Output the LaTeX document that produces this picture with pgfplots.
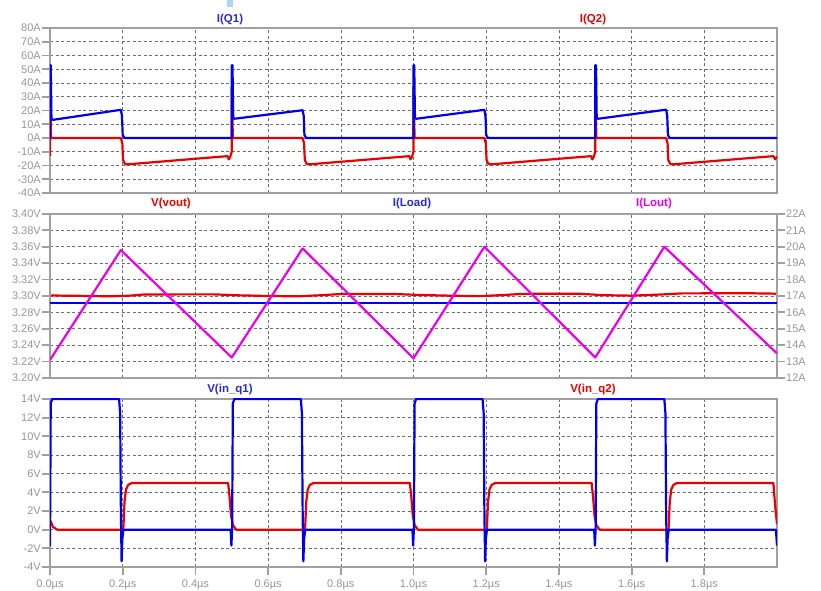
\documentclass[border=0pt]{standalone}
\usepackage{pgfplots}
\pgfplotsset{compat=1.18}
\usepackage{fontspec}
\setmainfont{Liberation Sans}
\definecolor{ltblue}{RGB}{0,0,240}
\definecolor{ltred}{RGB}{235,0,0}
\definecolor{ltmag}{RGB}{235,0,235}
\definecolor{frame}{RGB}{160,160,160}
\definecolor{tickgray}{RGB}{150,150,150}
\definecolor{gridgray}{RGB}{110,110,110}
\definecolor{ttlblue}{RGB}{40,40,220}
\pgfplotsset{
  ltpanel/.style={
    scale only axis, width=727pt, anchor=south west,
    xmin=0, xmax=2,
    xtick={0,0.2,0.4,0.6,0.8,1.0,1.2,1.4,1.6,1.8},
    axis line style={draw=frame, line width=2pt},
    grid=major,
    major grid style={draw=gridgray, line width=0.6pt, dash pattern=on 3pt off 2.5pt},
    tick align=outside, major tick length=8pt,
    every tick/.style={draw=frame, line width=1.8pt},
    ytick pos=left,
    tick label style={font=\fontsize{11}{12}\selectfont, text=tickgray},
    yticklabel style={inner xsep=1pt},
    /pgf/number format/assume math mode=true,
    clip=true,
    every axis plot/.append style={line width=2.2pt, line join=round},
  },
  noxlabels/.style={xticklabels={}, xtick style={draw=none}},
}
\begin{document}
\begin{tikzpicture}
\path[use as bounding box] (0pt,0pt) rectangle (821pt,591pt);
\fill[color={rgb,255:red,170;green,215;blue,250}] (227pt,584pt) rectangle (233pt,591pt);

% ---------------- top panel ----------------
\begin{axis}[ltpanel, noxlabels, at={(50pt,398pt)}, height=165pt,
  ymin=-40, ymax=80, ytick={-40,-30,...,80},
  yticklabel={\pgfmathprintnumber{\tick}A}]
\addplot[ltred] coordinates {
 (0,-13)(0,37)(0.003,0)(0.195,0)(0.199,-4)(0.201,-16)(0.206,-18.8)(0.212,-19.2)
 (0.488,-13.2)(0.492,-15.5)(0.496,-13.5)(0.5,-10)(0.5,37)(0.503,0)
 (0.695,0)(0.699,-4)(0.701,-16)(0.706,-18.8)(0.712,-19.2)
 (0.988,-13.2)(0.992,-15.5)(0.996,-13.5)(1.0,-10)(1.0,37)(1.003,0)
 (1.195,0)(1.199,-4)(1.201,-16)(1.206,-18.8)(1.212,-19.2)
 (1.488,-13.2)(1.492,-15.5)(1.496,-13.5)(1.5,-10)(1.5,37)(1.503,0)
 (1.695,0)(1.699,-4)(1.701,-16)(1.706,-18.8)(1.712,-19.2)
 (1.99,-13.2)(1.995,-15.5)(2.0,-13.5)
};
\addplot[ltblue] coordinates {
 (0,-1)(0,53)(0.002,53)(0.004,14)(0.008,13.2)(0.195,20.5)(0.198,16)(0.2,2)(0.205,0)
 (0.5,0)(0.5,53)(0.502,53)(0.504,14.5)(0.508,14)(0.695,20.2)(0.698,16)(0.7,2)(0.705,0)
 (1.0,0)(1.0,53)(1.002,53)(1.004,14.5)(1.008,14)(1.195,20.5)(1.198,16)(1.2,2)(1.205,0)
 (1.5,0)(1.5,53)(1.502,53)(1.504,14.5)(1.508,14)(1.695,20.6)(1.698,16)(1.7,2)(1.705,0)
 (2.0,0)
};
\end{axis}
\node[font=\bfseries\fontsize{11.5}{12}\selectfont, text=ttlblue] at (230pt,571pt) {I(Q1)};
\node[font=\bfseries\fontsize{11.5}{12}\selectfont, text=ltred] at (593pt,571pt) {I(Q2)};

% ---------------- middle panel ----------------
\begin{axis}[ltpanel, noxlabels, at={(50pt,213pt)}, height=164pt,
  ymin=3.20, ymax=3.40, ytick={3.20,3.22,3.24,3.26,3.28,3.30,3.32,3.34,3.36,3.38,3.40},
  yticklabel={\pgfmathprintnumber[fixed,fixed zerofill,precision=2]{\tick}V}]
\addplot[ltred] coordinates {
 (0,3.3006)(0.08,3.3002)(0.17,3.2996)(0.22,3.3004)(0.26,3.3019)(0.45,3.3020)(0.52,3.3008)
 (0.6,3.3000)(0.68,3.2996)(0.74,3.3008)(0.8,3.3024)(0.95,3.3024)(1.02,3.3012)
 (1.1,3.3004)(1.18,3.2998)(1.24,3.3010)(1.3,3.3026)(1.46,3.3027)(1.52,3.3010)
 (1.6,3.3004)(1.68,3.3018)(1.74,3.3032)(1.93,3.3033)(2.0,3.3028)
};
\end{axis}
\begin{axis}[ltpanel, noxlabels, at={(50pt,213pt)}, height=164pt, grid=none,
  ymin=12, ymax=22, ytick={12,13,...,22}, ytick pos=right,
  yticklabel style={inner xsep=1pt},
  yticklabel={\pgfmathprintnumber{\tick}A}]
\addplot[ltblue] coordinates {(0,16.55)(2.0,16.55)};
\addplot[ltmag] coordinates {
 (0,13.1)(0.195,19.8)(0.5,13.25)(0.695,19.9)(1.0,13.2)(1.195,20.0)(1.5,13.25)(1.69,20.0)(2.0,13.5)
};
\end{axis}
\node[font=\bfseries\fontsize{11.5}{12}\selectfont, text=ltred] at (171pt,387pt) {V(vout)};
\node[font=\bfseries\fontsize{11.5}{12}\selectfont, text=ttlblue] at (412pt,387pt) {I(Load)};
\node[font=\bfseries\fontsize{11.5}{12}\selectfont, text=ltmag] at (654pt,387pt) {I(Lout)};

% ---------------- bottom panel ----------------
\begin{axis}[ltpanel, at={(50pt,24pt)}, height=168pt,
  ymin=-4, ymax=14, ytick={-4,-2,...,14},
  yticklabel={\pgfmathprintnumber{\tick}V},
  xticklabels={0.0µs,0.2µs,0.4µs,0.6µs,0.8µs,1.0µs,1.2µs,1.4µs,1.6µs,1.8µs},
  xtick pos=bottom, xticklabel style={yshift=-1pt}]
\addplot[ltred] coordinates {
 (0,1.0)(0.003,0.8)(0.008,0.3)(0.02,0)(0.195,0)(0.199,-0.6)(0.202,0.3)(0.205,3.0)(0.209,4.3)(0.215,4.8)(0.225,5)
 (0.49,5)(0.494,3.5)(0.498,1.5)(0.503,0.5)(0.512,0)
 (0.695,0)(0.699,-0.6)(0.702,0.3)(0.705,3.0)(0.709,4.3)(0.715,4.8)(0.725,5)
 (0.99,5)(0.994,3.5)(0.998,1.5)(1.003,0.5)(1.012,0)
 (1.195,0)(1.199,-0.6)(1.202,0.3)(1.205,3.0)(1.209,4.3)(1.215,4.8)(1.225,5)
 (1.49,5)(1.494,3.5)(1.498,1.5)(1.503,0.5)(1.512,0)
 (1.695,0)(1.699,-0.6)(1.702,0.3)(1.705,3.0)(1.709,4.3)(1.715,4.8)(1.725,5)
 (1.99,5)(1.995,2.5)(2.0,0.6)
};
\addplot[ltblue] coordinates {
 (0,-1.8)(0.002,13.5)(0.006,14)(0.19,14)(0.193,12.5)(0.195,2)(0.197,-3.4)(0.199,-1)(0.202,0)
 (0.497,0)(0.499,-1.7)(0.501,0)(0.503,13.5)(0.507,14)(0.69,14)(0.693,12.5)(0.695,2)(0.697,-3.4)(0.699,-1)(0.702,0)
 (0.997,0)(0.999,-1.7)(1.001,0)(1.003,13.5)(1.007,14)(1.19,14)(1.193,12.5)(1.195,2)(1.197,-3.4)(1.199,-1)(1.202,0)
 (1.497,0)(1.499,-1.7)(1.501,0)(1.503,13.5)(1.507,14)(1.69,14)(1.693,12.5)(1.695,2)(1.697,-3.4)(1.699,-1)(1.702,0)
 (1.997,0)(2.0,-1.7)
};
\end{axis}
\node[font=\bfseries\fontsize{11.5}{12}\selectfont, text=ttlblue] at (230pt,201pt) {V(in\_q1)};
\node[font=\bfseries\fontsize{11.5}{12}\selectfont, text=ltred] at (593pt,201pt) {V(in\_q2)};
\end{tikzpicture}
\end{document}
